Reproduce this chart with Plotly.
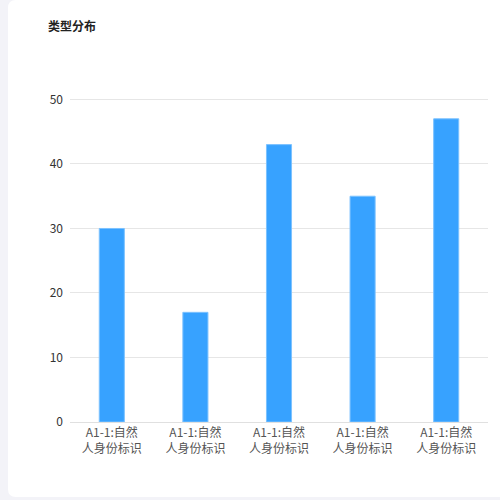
import plotly.graph_objects as go

# data
tick_labels = ["A1-1:自然<br>人身份标识"] * 5
values = [30, 17, 43, 35, 47]
y_ticks = [0, 10, 20, 30, 40, 50]

x_pos = list(range(len(values)))

# layout geometry (px)
W, H = 500, 500
L, R, T, B = 70, 12, 93, 78
PW, PH = W - L - R, H - T - B


def px_x(x):
    return (x - L) / PW


def px_y(y):
    return (H - B - y) / PH


# white card with rounded left corners
r = 8
x0, x1, y0, y1 = 8, 520, 0, 497
card = (
    f"M {px_x(x0 + r)} {px_y(y0)} L {px_x(x1)} {px_y(y0)} L {px_x(x1)} {px_y(y1)} "
    f"L {px_x(x0 + r)} {px_y(y1)} Q {px_x(x0)} {px_y(y1)} {px_x(x0)} {px_y(y1 - r)} "
    f"L {px_x(x0)} {px_y(y0 + r)} Q {px_x(x0)} {px_y(y0)} {px_x(x0 + r)} {px_y(y0)} Z"
)

fig = go.Figure()
fig.add_trace(
    go.Bar(
        x=x_pos,
        y=values,
        width=0.3,
        marker=dict(color="#37a2ff", line=dict(color="#7cc2ff", width=1)),
        hoverinfo="y",
    )
)

fig.add_shape(
    type="path",
    path=card,
    xref="paper",
    yref="paper",
    fillcolor="white",
    line=dict(width=0),
    layer="below",
)

fig.update_layout(
    width=W,
    height=H,
    margin=dict(l=L, r=R, t=T, b=B),
    paper_bgcolor="#f3f3f8",
    plot_bgcolor="rgba(0,0,0,0)",
    showlegend=False,
    font=dict(family="Noto Sans CJK SC, sans-serif", size=12, color="#333"),
    title=dict(
        text="<b>类型分布</b>",
        x=48 / W,
        xanchor="left",
        y=1 - 27 / H,
        yanchor="middle",
        font=dict(size=12, color="#222"),
    ),
    xaxis=dict(
        range=[-0.5, 4.5],
        tickmode="array",
        tickvals=x_pos,
        ticktext=tick_labels,
        showgrid=False,
        zeroline=False,
        showline=True,
        linecolor="#e0e0e0",
        ticks="",
        tickfont=dict(color="#555", size=12),
        fixedrange=True,
    ),
    yaxis=dict(
        range=[0, 51],
        tickvals=y_ticks,
        showgrid=True,
        gridcolor="#e6e6e6",
        zeroline=False,
        showline=False,
        ticks="",
        ticklabelstandoff=6,
        tickfont=dict(color="#333", size=12),
        fixedrange=True,
    ),
    bargap=0.7,
)

fig.write_html(
    "out.html",
    config={"displayModeBar": False},
    post_script="document.body.style.margin = '0';",
)
